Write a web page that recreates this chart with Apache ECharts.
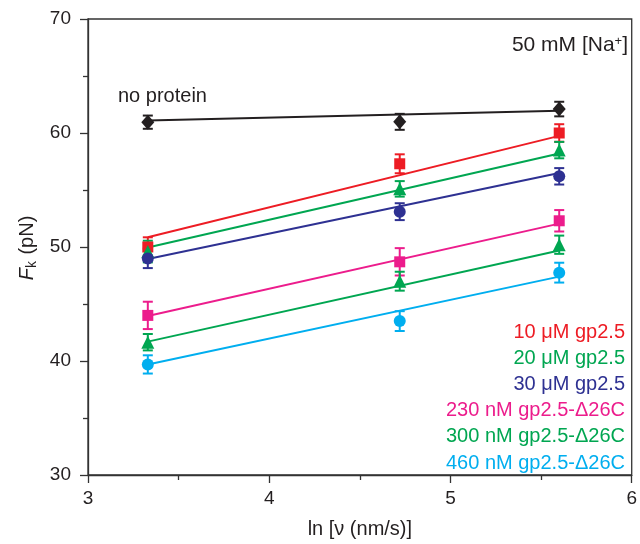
<!DOCTYPE html>
<html>
<head>
<meta charset="utf-8">
<script src="https://cdn.jsdelivr.net/npm/echarts@6/dist/echarts.min.js"></script>
<style>html,body{margin:0;padding:0;background:#fff;}#c{width:640px;height:544px;}</style>
</head>
<body>
<div id="c"></div>
<script>
// ---- data ----
const xVals = [3.33, 4.72, 5.60];
const fitX = [3.33, 5.60];

const noProtein = [60.95, 60.98, 62.1];
const noProteinErr = [0.58, 0.7, 0.64];
const noProteinFit = [61.1, 61.95];

const gp10 = [50.0, 57.3, 60.0];
const gp10Err = [0.85, 0.83, 0.77];
const gp10Fit = [50.85, 59.75];

const gp20 = [49.6, 55.1, 58.5];
const gp20Err = [0.95, 0.68, 0.72];
const gp20Fit = [49.95, 58.2];

const gp30 = [49.0, 53.1, 56.2];
const gp30Err = [0.85, 0.74, 0.72];
const gp30Fit = [48.95, 56.5];

const d230 = [44.0, 48.7, 52.3];
const d230Err = [1.2, 1.2, 0.94];
const d230Fit = [43.95, 52.05];

const d300 = [41.65, 47.0, 50.2];
const d300Err = [0.72, 0.83, 0.8];
const d300Fit = [41.7, 49.7];

const d460 = [39.7, 43.5, 47.75];
const d460Err = [0.8, 0.87, 0.87];
const d460Fit = [39.7, 47.4];

const legendLabels = ['10 μM gp2.5', '20 μM gp2.5', '30 μM gp2.5',
  '230 nM gp2.5-Δ26C', '300 nM gp2.5-Δ26C', '460 nM gp2.5-Δ26C'];
const xTitle = 'ln [ν (nm/s)]';
const topLabel = 'no protein';

// ---- styles ----
const FONT = '"Liberation Sans", Arial, Helvetica, sans-serif';
const groups = [
  {name: 'no protein', v: noProtein, e: noProteinErr, f: noProteinFit, color: '#231F20', symbol: 'diamond', size: [13, 15]},
  {name: legendLabels[0], v: gp10, e: gp10Err, f: gp10Fit, color: '#ED1C24', symbol: 'rect', size: 11},
  {name: legendLabels[1], v: gp20, e: gp20Err, f: gp20Fit, color: '#00A651', symbol: 'triangle', size: 13},
  {name: legendLabels[2], v: gp30, e: gp30Err, f: gp30Fit, color: '#2E3192', symbol: 'circle', size: 12},
  {name: legendLabels[3], v: d230, e: d230Err, f: d230Fit, color: '#EC1C8C', symbol: 'rect', size: 11},
  {name: legendLabels[4], v: d300, e: d300Err, f: d300Fit, color: '#00A651', symbol: 'triangle', size: 13},
  {name: legendLabels[5], v: d460, e: d460Err, f: d460Fit, color: '#00AEEF', symbol: 'circle', size: 12}
];

const series = [];
groups.forEach((g, gi) => {
  series.push({
    type: 'line', silent: true, symbol: 'none', z: 2,
    data: fitX.map((x, i) => [x, g.f[i]]),
    lineStyle: {color: g.color, width: 2}
  });
  series.push({
    type: 'custom', silent: true, z: 3,
    data: xVals.map((x, i) => [x, g.v[i], g.e[i]]),
    encode: {x: 0, y: 1},
    renderItem: (params, api) => {
      const x = api.value(0), y = api.value(1), e = api.value(2);
      const t = api.coord([x, y + e]), b = api.coord([x, y - e]);
      const hw = 5;
      const st = {stroke: g.color, lineWidth: 2};
      return {type: 'group', children: [
        {type: 'line', shape: {x1: t[0], y1: t[1], x2: b[0], y2: b[1]}, style: st},
        {type: 'line', shape: {x1: t[0] - hw, y1: t[1], x2: t[0] + hw, y2: t[1]}, style: st},
        {type: 'line', shape: {x1: b[0] - hw, y1: b[1], x2: b[0] + hw, y2: b[1]}, style: st}
      ]};
    }
  });
  series.push({
    type: 'scatter', silent: true, z: 4,
    symbol: g.symbol, symbolSize: g.size,
    data: xVals.map((x, i) => [x, g.v[i]]),
    itemStyle: {color: g.color, opacity: 1}
  });
});

const legendGraphics = legendLabels.map((t, i) => ({
  type: 'text', right: 15, top: 322 + i * 26.2,
  style: {text: t, fill: groups[i + 1].color, font: '20px ' + FONT, textAlign: 'right'}
}));

const chart = echarts.init(document.getElementById('c'), null, {renderer: 'canvas'});
chart.setOption({
  animation: false,
  backgroundColor: '#fff',
  grid: {left: 88, right: 7, top: 19, bottom: 65, show: true, borderColor: '#333', borderWidth: 1.3, backgroundColor: 'transparent'},
  xAxis: {
    type: 'value', min: 3, max: 6, interval: 1,
    name: xTitle, nameLocation: 'middle', nameGap: 44,
    nameTextStyle: {fontFamily: FONT, fontSize: 20, color: '#231F20'},
    axisLine: {show: true, lineStyle: {color: '#333', width: 1.3}},
    axisTick: {show: true, inside: false, length: 8, lineStyle: {color: '#333', width: 1.3}},
    minorTick: {show: true, splitNumber: 2, length: 5, lineStyle: {color: '#333', width: 1.3}},
    axisLabel: {fontFamily: FONT, fontSize: 19, color: '#231F20', margin: 14},
    splitLine: {show: false}
  },
  yAxis: {
    type: 'value', min: 30, max: 70, interval: 10,
    axisLine: {show: true, lineStyle: {color: '#333', width: 1.3}},
    axisTick: {show: true, inside: false, length: 8, lineStyle: {color: '#333', width: 1.3}},
    minorTick: {show: true, splitNumber: 2, length: 5, lineStyle: {color: '#333', width: 1.3}},
    axisLabel: {fontFamily: FONT, fontSize: 19, color: '#231F20', margin: 17},
    splitLine: {show: false}
  },
  graphic: [
    {type: 'text', left: 118, top: 86,
      style: {text: topLabel, fill: '#231F20', font: '20px ' + FONT}},
    {type: 'text', right: 12, top: 35,
      style: {text: '50 mM [Na{sup|+}]', fill: '#231F20', font: '21px ' + FONT,
        rich: {sup: {fontSize: 13, fontFamily: FONT, fill: '#231F20', verticalAlign: 'top', padding: [0, 0, 8, 0]}}}},
    {type: 'text', x: 27, y: 248, rotation: Math.PI / 2,
      style: {text: '{i|F}{s|k} (pN)', fill: '#231F20', font: '20px ' + FONT, align: 'center', verticalAlign: 'middle',
        rich: {i: {fontStyle: 'italic', fontSize: 20, fontFamily: FONT, fill: '#231F20'},
               s: {fontSize: 14, fontFamily: FONT, fill: '#231F20', verticalAlign: 'bottom', padding: [10, 1, 0, 0]}}}}
  ].concat(legendGraphics),
  series: series
});
</script>
</body>
</html>
